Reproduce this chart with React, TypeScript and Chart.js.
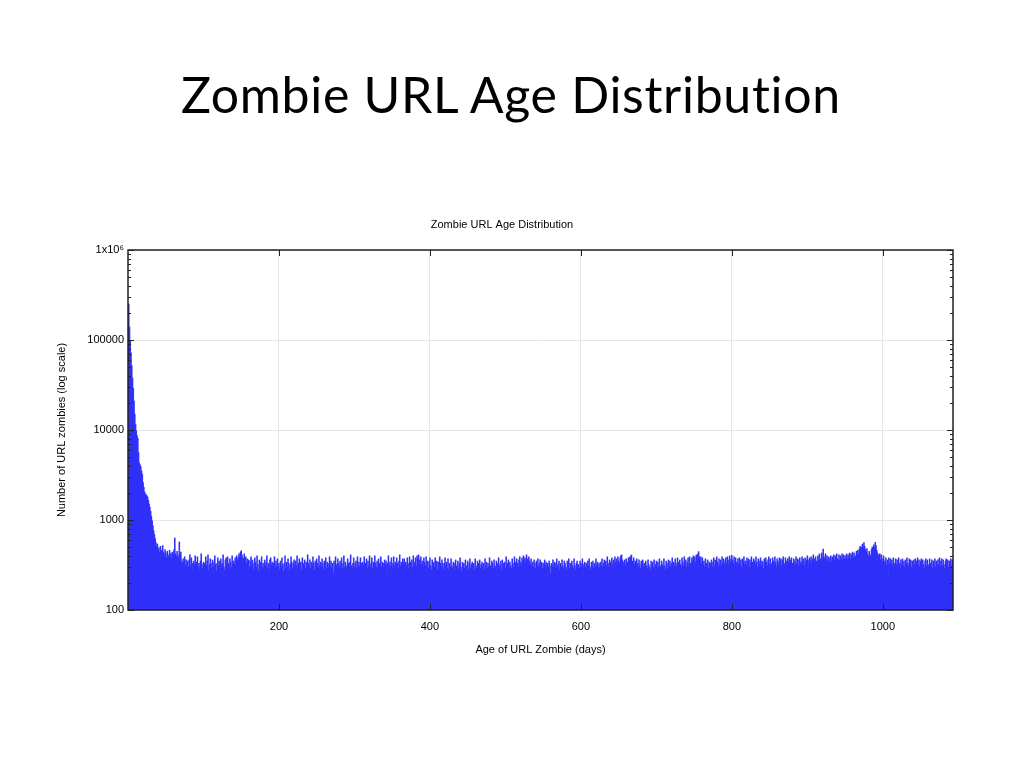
import { useRef, useEffect } from 'react';
import Chart from 'chart.js/auto';

const slideTitle = 'Zombie URL Age Distribution';
const chartTitle = 'Zombie URL Age Distribution';
const xAxisTitle = 'Age of URL Zombie (days)';
const yAxisTitle = 'Number of URL zombies (log scale)';

// tick labels
const xTickDays = [200, 400, 600, 800, 1000];
const yTickCounts = [100, 1000, 10000, 100000, 1000000];
const yTickLabels = ['100', '1000', '10000', '100000', '1x10\u2076'];

// zombie count per day of age, day 1 .. 365
const firstYearCounts = [
  250000, 140000, 98000, 72000, 52000, 38000, 29000, 21000, 15000, 11500,
  9800, 8600, 8100, 5600, 4300, 4100, 3900, 3500, 3200, 2600,
  2300, 2050, 1950, 1900, 1850, 1800, 1650, 1500, 1380, 1250,
  1100, 980, 860, 760, 690, 620, 560, 510, 540, 470,
  490, 430, 510, 460, 420, 520, 440, 400, 470, 430,
  380, 450, 410, 390, 460, 400, 430, 370, 440, 410,
  470, 630, 420, 390, 450, 410, 380, 570, 400, 440,
  350, 330, 370, 340, 390, 310, 360, 330, 350, 300,
  360, 410, 310, 380, 330, 270, 350, 320, 400, 300,
  340, 390, 280, 330, 300, 350, 420, 320, 290, 340,
  330, 280, 390, 310, 350, 410, 270, 320, 370, 330,
  290, 360, 300, 340, 400, 320, 270, 330, 380, 310,
  350, 290, 370, 320, 330, 410, 300, 280, 360, 380,
  320, 390, 330, 290, 370, 340, 300, 400, 330, 350,
  320, 380, 340, 400, 360, 380, 420, 390, 440, 455,
  410, 380, 370, 420, 350, 390, 330, 370, 320, 360,
  300, 350, 390, 310, 360, 280, 330, 380, 340, 300,
  400, 320, 270, 360, 310, 340, 390, 300, 330, 290,
  360, 310, 340, 400, 290, 330, 270, 360, 380, 320,
  340, 300, 330, 390, 290, 350, 310, 370, 300, 330,
  280, 350, 300, 380, 320, 270, 330, 400, 290, 340,
  300, 370, 330, 280, 320, 390, 340, 290, 330, 360,
  300, 350, 310, 400, 290, 330, 370, 300, 340, 280,
  380, 310, 330, 360, 290, 340, 300, 410, 330, 310,
  360, 290, 340, 310, 390, 330, 280, 350, 300, 370,
  330, 290, 400, 310, 340, 300, 370, 330, 280, 350,
  310, 380, 290, 340, 330, 300, 390, 310, 350, 290,
  330, 255, 350, 300, 390, 320, 290, 370, 330, 300,
  350, 310, 380, 290, 330, 400, 300, 340, 310, 280,
  370, 330, 300, 340, 410, 310, 290, 330, 380, 300,
  330, 350, 290, 390, 310, 340, 300, 380, 330, 280,
  340, 310, 390, 300, 330, 370, 290, 350, 310, 400,
  300, 330, 380, 290, 340, 310, 400, 330, 300, 350,
  290, 370, 330, 310, 390, 300, 340, 330, 280, 360,
  320, 350, 255, 330, 400, 300, 340, 310, 380, 290,
  330, 390, 310, 340, 300, 380, 330, 290, 350, 410,
  310, 340, 300, 370, 330,
];

// day 366 .. 730
const secondYearCounts = [
  370, 300, 340, 310, 380, 330, 290, 390, 340, 310,
  360, 300, 400, 340, 320, 380, 310, 400, 370, 410,
  360, 330, 390, 320, 350, 300, 380, 340, 310, 390,
  320, 350, 290, 340, 380, 310, 280, 360, 330, 340,
  300, 380, 320, 350, 280, 340, 310, 390, 330, 300,
  360, 330, 280, 330, 380, 310, 340, 290, 370, 280,
  330, 300, 370, 310, 290, 340, 330, 270, 360, 310,
  300, 350, 290, 330, 380, 300, 270, 340, 310, 330,
  290, 360, 310, 300, 350, 280, 330, 370, 290, 320,
  340, 300, 330, 280, 370, 310, 290, 350, 330, 300,
  360, 290, 320, 340, 300, 330, 280, 370, 310, 340,
  290, 330, 300, 380, 310, 280, 350, 330, 290, 360,
  310, 300, 350, 290, 330, 380, 300, 320, 350, 280,
  360, 330, 300, 340, 290, 390, 310, 330, 360, 300,
  340, 310, 290, 370, 330, 300, 390, 340, 310, 370,
  330, 300, 360, 390, 340, 310, 380, 350, 400, 360,
  380, 340, 410, 370, 330, 390, 350, 320, 370, 310,
  340, 300, 360, 330, 290, 350, 310, 370, 300, 330,
  360, 310, 340, 290, 330, 300, 360, 310, 340, 290,
  330, 300, 350, 310, 255, 330, 300, 360, 310, 340,
  290, 330, 370, 300, 320, 350, 280, 330, 300, 360,
  310, 290, 350, 330, 300, 280, 350, 310, 370, 290,
  330, 300, 350, 310, 290, 370, 310, 280, 330, 350,
  300, 320, 290, 350, 330, 300, 370, 280, 320, 340,
  300, 330, 290, 350, 310, 370, 300, 280, 340, 310,
  350, 290, 330, 300, 370, 310, 340, 290, 330, 300,
  340, 310, 370, 300, 330, 360, 290, 350, 310, 390,
  330, 300, 360, 340, 310, 380, 320, 360, 300, 390,
  340, 370, 320, 390, 350, 330, 380, 400, 410, 360,
  340, 310, 360, 320, 370, 300, 340, 380, 350, 390,
  390, 410, 350, 330, 380, 320, 350, 310, 370, 330,
  300, 360, 320, 290, 350, 310, 360, 300, 330, 280,
  350, 310, 290, 360, 320, 300, 280, 350, 310, 340,
  290, 360, 300, 320, 350, 280, 340, 300, 370, 310,
  290, 350, 320, 300, 370, 310, 280, 350, 330, 290,
  360, 310, 350, 300, 330, 380, 290, 340, 310, 370,
  330, 300, 380, 340, 310,
];

// day 731 .. 1093
const thirdYearCounts = [
  360, 320, 300, 380, 340, 310, 390, 330, 360, 300,
  340, 380, 310, 390, 330, 320, 380, 350, 400, 350,
  390, 340, 410, 370, 420, 445, 390, 350, 390, 330,
  380, 320, 350, 300, 370, 330, 310, 360, 290, 340,
  260, 330, 360, 300, 340, 380, 310, 360, 320, 390,
  340, 300, 370, 320, 360, 310, 390, 330, 370, 320,
  350, 380, 330, 390, 360, 320, 400, 340, 370, 405,
  360, 330, 390, 320, 380, 340, 310, 370, 330, 380,
  320, 360, 300, 370, 340, 390, 320, 350, 310, 380,
  340, 370, 300, 360, 330, 390, 340, 310, 370, 350,
  320, 390, 340, 300, 370, 350, 320, 380, 310, 350,
  340, 290, 370, 330, 380, 340, 310, 360, 390, 320,
  370, 330, 310, 380, 350, 320, 390, 340, 300, 370,
  350, 320, 380, 340, 370, 310, 360, 390, 330, 320,
  380, 350, 310, 370, 340, 390, 320, 360, 380, 330,
  300, 370, 350, 320, 390, 330, 370, 310, 360, 380,
  340, 320, 390, 350, 370, 310, 380, 340, 360, 400,
  360, 320, 380, 350, 390, 330, 370, 410, 370, 340,
  390, 350, 330, 400, 360, 420, 370, 350, 430, 380,
  476, 390, 370, 420, 360, 400, 350, 390, 340, 380,
  400, 350, 390, 340, 410, 360, 400, 350, 420, 370,
  360, 410, 350, 400, 370, 420, 360, 410, 370, 400,
  360, 420, 370, 410, 380, 430, 370, 420, 390, 440,
  380, 430, 400, 390, 450, 410, 460, 420, 480, 510,
  450, 500, 540, 490, 560, 510, 470, 440, 480, 420,
  390, 450, 410, 400, 470, 500, 460, 530, 490, 565,
  520, 460, 430, 410, 380, 420, 360, 410, 370, 340,
  400, 350, 330, 380, 320, 360, 240, 380, 330, 370,
  310, 360, 320, 380, 330, 300, 370, 320, 360, 310,
  380, 330, 290, 360, 320, 370, 310, 350, 300, 360,
  320, 380, 330, 310, 370, 320, 360, 300, 350, 290,
  360, 320, 370, 310, 350, 380, 320, 360, 300, 350,
  370, 310, 360, 320, 290, 350, 370, 310, 360, 320,
  300, 370, 330, 310, 360, 290, 350, 320, 370, 300,
  350, 310, 360, 320, 380, 300, 350, 370, 310, 360,
  320, 290, 350, 370, 310, 360, 300, 350, 320, 370,
  310, 360, 330,
];

const xMaxDay = 1093;

// gnuplot-like frame with inward tick marks on all four sides
const framePlugin = {
  id: 'frame',
  afterDatasetsDraw(chart: any) {
    const { ctx, chartArea, scales } = chart;
    const { left, right, top, bottom } = chartArea;
    const xs = scales.x;
    const ys = scales.y;
    ctx.save();
    ctx.strokeStyle = '#222';
    ctx.lineWidth = 1;
    ctx.beginPath();
    xTickDays.forEach((d) => {
      const px = Math.round(xs.getPixelForValue(d)) + 0.5;
      ctx.moveTo(px, bottom);
      ctx.lineTo(px, bottom - 6);
      ctx.moveTo(px, top);
      ctx.lineTo(px, top + 6);
    });
    yTickCounts.forEach((v, i) => {
      const py = Math.round(ys.getPixelForValue(v)) + 0.5;
      ctx.moveTo(left, py);
      ctx.lineTo(left + 6, py);
      ctx.moveTo(right, py);
      ctx.lineTo(right - 6, py);
      if (i < yTickCounts.length - 1) {
        for (let m = 2; m < 10; m++) {
          const my = Math.round(ys.getPixelForValue(v * m)) + 0.5;
          ctx.moveTo(left, my);
          ctx.lineTo(left + 3, my);
          ctx.moveTo(right, my);
          ctx.lineTo(right - 3, my);
        }
      }
    });
    ctx.stroke();
    ctx.lineWidth = 1.5;
    ctx.strokeRect(left, top, right - left, bottom - top);
    ctx.restore();
  },
};

const ZombieChart = () => {
  const chartRef = useRef<HTMLCanvasElement | null>(null);

  useEffect(() => {
    const ctx = chartRef.current!.getContext('2d');
    const counts = [...firstYearCounts, ...secondYearCounts, ...thirdYearCounts];
    const points = counts.map((c, i) => ({ x: i + 1, y: c }));
    const font = { family: '"Liberation Sans", Arial, sans-serif', size: 11, weight: 'normal' as const };

    const chart = new Chart(ctx!, {
      type: 'bar',
      data: {
        datasets: [
          {
            label: chartTitle,
            data: points,
            backgroundColor: '#3030fa',
            borderWidth: 0,
            barThickness: 0.9,
            grouped: false,
          },
        ],
      },
      options: {
        animation: false,
        responsive: false,
        devicePixelRatio: 1,
        layout: { padding: { left: 51, right: 71, top: 218.4, bottom: 107.4 } },
        plugins: {
          legend: { display: false },
          tooltip: { enabled: false },
          title: {
            display: true,
            text: chartTitle,
            color: '#000',
            font,
            padding: { top: 0, bottom: 18.4 },
          },
        },
        scales: {
          x: {
            type: 'linear',
            min: 0,
            max: xMaxDay,
            offset: false,
            afterFit: (s: any) => { s.height = 50.6; },
            afterBuildTicks: (s: any) => { s.ticks = xTickDays.map((v) => ({ value: v })); },
            grid: { color: '#e6e6e6', lineWidth: 1, drawTicks: false, offset: false },
            border: { display: false },
            ticks: { color: '#000', font, padding: 10, maxRotation: 0, callback: (v: any) => String(v) },
            title: { display: true, text: xAxisTitle, color: '#000', font, padding: 4 },
          },
          y: {
            type: 'logarithmic',
            min: 100,
            max: 1000000,
            afterFit: (s: any) => { s.width = 77; },
            afterBuildTicks: (s: any) => { s.ticks = yTickCounts.map((v) => ({ value: v })); },
            grid: { color: '#e6e6e6', lineWidth: 1, drawTicks: false },
            border: { display: false },
            ticks: {
              color: '#000',
              font,
              padding: 4,
              callback: (v: any) => yTickLabels[yTickCounts.indexOf(Number(v))] ?? '',
            },
            title: { display: true, text: yAxisTitle, color: '#000', font, padding: 4 },
          },
        },
      },
      plugins: [framePlugin],
    });
    return () => {
      chart.destroy();
    };
  }, []);

  return (
    <canvas
      ref={chartRef}
      width={1024}
      height={768}
      style={{ position: 'absolute', left: 0, top: 0, width: 1024, height: 768 }}
    />
  );
};

const App = () => {
  return (
    <div style={{ position: 'absolute', left: 0, top: 0, width: 1024, height: 768, background: '#fff' }}>
      <div
        style={{
          position: 'absolute',
          left: 0,
          top: 69,
          width: 1022,
          textAlign: 'center',
          fontFamily: 'Lato, "Open Sans", sans-serif',
          fontSize: 50,
          lineHeight: '50px',
          letterSpacing: 0.7,
          fontVariantLigatures: 'none',
          color: '#000',
        }}
      >
        {slideTitle}
      </div>
      <ZombieChart />
    </div>
  );
};

export default App;
